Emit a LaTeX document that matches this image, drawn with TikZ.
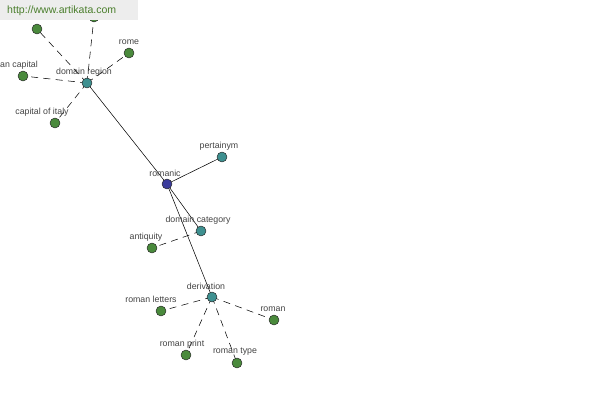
\documentclass[tikz,border=0pt]{standalone}
\usepackage{fontspec}
\setmainfont{Liberation Sans}
\definecolor{cteal}{HTML}{3E9090}
\definecolor{cgrn}{HTML}{4A8A3C}
\definecolor{cblu}{HTML}{3C3C9C}
\definecolor{cban}{HTML}{4A7E2C}
\definecolor{ctxt}{HTML}{444444}
\begin{document}
\begin{tikzpicture}[x=0.03cm,y=-0.03cm,
  dot/.style={circle,draw=black!85,line width=0.4pt,minimum size=8.5pt,inner sep=0pt},
  teal/.style={dot,fill=cteal},
  grn/.style={dot,fill=cgrn},
  blu/.style={dot,fill=cblu},
  lbl/.style={font=\fontsize{7.5}{8}\selectfont,text=ctxt,inner sep=0pt},
  solid link/.style={draw=black,line width=0.45pt},
  dash link/.style={draw=black,line width=0.45pt,dash pattern=on 6pt off 4.5pt}]
\useasboundingbox (0,0) rectangle (600,400);
\fill[white] (0,0) rectangle (600,400);
% node positions
\coordinate (dr) at (87,83);
\coordinate (tl) at (37,29);
\coordinate (top) at (94,17);
\coordinate (rome) at (129,53);
\coordinate (rc) at (23,76);
\coordinate (coi) at (55,123);
\coordinate (rom) at (167,184);
\coordinate (per) at (222,157);
\coordinate (dc) at (201,231);
\coordinate (ant) at (152,248);
\coordinate (der) at (212,297);
\coordinate (rl) at (161,311);
\coordinate (rn) at (274,320);
\coordinate (rp) at (186,355);
\coordinate (rt) at (237,363);
% edges
\path[solid link] (rom) -- (dr);
\path[solid link] (rom) -- (per);
\path[solid link] (rom) -- (dc);
\path[solid link] (rom) -- (der);
\foreach \n in {tl,top,rome,rc,coi} \path[dash link] (dr) -- (\n);
\path[dash link] (dc) -- (ant);
\foreach \n in {rl,rn,rp,rt} \path[dash link] (der) -- (\n);
% nodes
\node[teal] (ndr) at (dr) {};
\node[grn] (ntl) at (tl) {};
\node[grn] (ntop) at (top) {};
\node[grn] (nrome) at (rome) {};
\node[grn] (nrc) at (rc) {};
\node[grn] (ncoi) at (coi) {};
\node[blu] (nrom) at (rom) {};
\node[teal] (nper) at (per) {};
\node[teal] (ndc) at (dc) {};
\node[grn] (nant) at (ant) {};
\node[teal] (nder) at (der) {};
\node[grn] (nrl) at (rl) {};
\node[grn] (nrn) at (rn) {};
\node[grn] (nrp) at (rp) {};
\node[grn] (nrt) at (rt) {};
% labels
\node[lbl] (l1) at (84,72) {domain region};
\node[lbl] (l2) at (129,42) {rome};
\node[lbl,anchor=west] (l3) at (0,65) {an capital};
\node[lbl] (l4) at (42,112) {capital of italy};
\node[lbl] (l5) at (165,173) {romanic};
\node[lbl] (l6) at (219,146) {pertainym};
\node[lbl] (l7) at (198,220) {domain category};
\node[lbl] (l8) at (146,237) {antiquity};
\node[lbl] (l9) at (206,286) {derivation};
\node[lbl] (l10) at (151,299) {roman letters};
\node[lbl] (l11) at (273,309) {roman};
\node[lbl] (l12) at (182,344) {roman print};
\node[lbl] (l13) at (235,352) {roman type};
% banner
\fill[black!7] (0,0) rectangle (138,20);
\node[font=\fontsize{9}{10}\selectfont,text=cban,anchor=west,inner sep=0pt] (ban) at (7,11) {http://www.artikata.com};
\end{tikzpicture}
\end{document}
